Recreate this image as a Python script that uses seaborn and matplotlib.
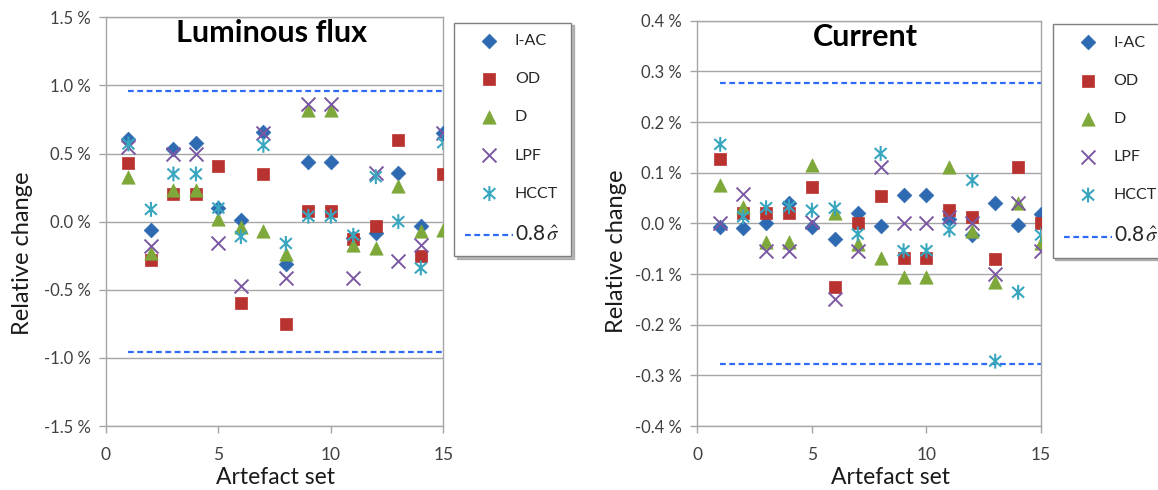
import matplotlib
matplotlib.use("Agg")
import matplotlib.pyplot as plt
import seaborn as sns
from matplotlib.path import Path
from matplotlib.ticker import FuncFormatter, MultipleLocator

# artefact sets on the x axis
sets = list(range(1, 16))
series_names = ["I-AC", "OD", "D", "LPF", "HCCT"]

# Luminous flux, relative change in %
flux_iac = [0.61, -0.06, 0.53, 0.58, 0.10, 0.01, 0.66, -0.31, 0.44, 0.44, -0.12, -0.08, 0.36, -0.03, 0.65]
flux_od = [0.43, -0.28, 0.20, 0.20, 0.41, -0.60, 0.35, -0.75, 0.08, 0.08, -0.13, -0.03, 0.60, -0.25, 0.35]
flux_d = [0.33, -0.23, 0.23, 0.23, 0.02, -0.04, -0.07, -0.24, 0.82, 0.82, -0.17, -0.19, 0.26, -0.07, -0.06]
flux_lpf = [0.55, -0.18, 0.50, 0.50, -0.16, -0.47, 0.65, -0.41, 0.86, 0.86, -0.41, 0.36, -0.29, -0.17, 0.65]
flux_hcct = [0.57, 0.09, 0.35, 0.35, 0.10, -0.11, 0.56, -0.16, 0.04, 0.04, -0.10, 0.33, 0.00, -0.34, 0.58]
flux_sigma = 0.956

# Current, relative change in %
cur_iac = [-0.007, -0.010, 0.000, 0.041, -0.007, -0.030, 0.020, -0.005, 0.056, 0.056, 0.008, -0.023, 0.040, -0.003, 0.018]
cur_od = [0.128, 0.020, 0.020, 0.020, 0.072, -0.126, 0.000, 0.054, -0.068, -0.068, 0.026, 0.013, -0.070, 0.111, 0.000]
cur_d = [0.076, 0.033, -0.037, -0.037, 0.116, 0.020, -0.040, -0.068, -0.105, -0.105, 0.111, -0.015, -0.116, 0.040, -0.039]
cur_lpf = [0.000, 0.058, -0.054, -0.054, 0.003, -0.149, -0.054, 0.111, 0.000, 0.000, 0.013, 0.000, -0.100, 0.040, -0.054]
cur_hcct = [0.156, 0.013, 0.031, 0.033, 0.026, 0.030, -0.021, 0.138, -0.054, -0.054, -0.013, 0.085, -0.272, -0.136, -0.023]
cur_sigma = 0.278

sns.set_style("white")
plt.rcParams["font.family"] = ["Lato", "DejaVu Sans"]
plt.rcParams["mathtext.fontset"] = "stix"

# excel-like asterisk marker for HCCT
star = Path([(0, -1), (0, 1), (-0.8, -0.72), (0.8, 0.72), (-0.8, 0.72), (0.8, -0.72)],
            [Path.MOVETO, Path.LINETO] * 3)

colors = ["#2E6AB1", "#B83330", "#7FA83A", "#7A58A3", "#38A6BF"]
markers = ["D", "s", "^", "x", star]
sizes = [56, 80, 92, 100, 115]
grid_col = "#A6A6A6"


def draw_panel(ax, values, sigma, title, title_xy, step, ymax, xlabel_x, ylabel_xy, legend_xy):
    for name, vals, col, mk, sz in zip(series_names, values, colors, markers, sizes):
        if mk == "x":
            # line-art marker takes its colour from the face
            sns.scatterplot(x=sets, y=vals, ax=ax, marker=mk, s=sz, color=col,
                            linewidth=1.4, label=name, zorder=3)
        elif isinstance(mk, Path):
            sns.scatterplot(x=sets, y=vals, ax=ax, marker=mk, s=sz, color=col,
                            facecolor="none", edgecolor=col, linewidth=1.5, label=name, zorder=3)
        else:
            sns.scatterplot(x=sets, y=vals, ax=ax, marker=mk, s=sz, color=col,
                            edgecolor=col, linewidth=0.5, label=name, zorder=3)
    ax.hlines([sigma, -sigma], sets[0], sets[-1], colors="#2F6BF5", linewidth=1.6,
              linestyles=(0, (2.6, 1.6)), label=r"0.8$\,\hat{\sigma}$", zorder=2)

    ax.set_xlim(0, 15)
    ax.set_ylim(-ymax, ymax)
    ax.xaxis.set_major_locator(MultipleLocator(5))
    ax.yaxis.set_major_locator(MultipleLocator(step))
    ax.yaxis.set_major_formatter(FuncFormatter(lambda v, p: "{:.1f} %".format(v + 0.0)))
    ax.grid(axis="y", color=grid_col, linewidth=1.0)
    ax.grid(axis="x", visible=False)
    for sp in ax.spines.values():
        sp.set_color(grid_col)
        sp.set_linewidth(1.0)
    ax.tick_params(axis="y", length=5, width=1, color=grid_col, pad=6, labelsize=12, labelcolor="#404040")
    ax.tick_params(axis="x", length=5, width=1, color=grid_col, pad=10, labelsize=12.5, labelcolor="#404040")
    ax.tick_params(left=True, bottom=True)

    ax.set_xlabel("Artefact set", fontsize=16.5, color="#1a1a1a")
    ax.set_ylabel("Relative change", fontsize=17, color="#1a1a1a")
    ax.xaxis.set_label_coords(xlabel_x, -0.1)
    ax.yaxis.set_label_coords(*ylabel_xy)
    ax.text(title_xy[0], title_xy[1], title, transform=ax.transAxes, ha="center", va="center",
            fontsize=22, fontweight="bold", color="black")

    leg = ax.legend(loc="upper left", bbox_to_anchor=legend_xy, bbox_transform=ax.figure.transFigure,
                    borderaxespad=0, frameon=True, fancybox=False, shadow={"color": "0.55", "alpha": 0.6},
                    fontsize=11.5, labelspacing=1.5, borderpad=0.72, handlelength=3.0, handletextpad=0.1,
                    scatterpoints=1)
    leg.get_texts()[-1].set_fontsize(15)
    leg.get_frame().set_edgecolor("#7F7F7F")
    leg.get_frame().set_linewidth(1.0)


fig = plt.figure(figsize=(11.58, 4.9), dpi=100)
ax1 = fig.add_axes([0.0915, 0.1306, 0.2913, 0.8341])
ax2 = fig.add_axes([0.6022, 0.1306, 0.2968, 0.8271])

draw_panel(ax1, [flux_iac, flux_od, flux_d, flux_lpf, flux_hcct], flux_sigma, "Luminous flux",
           (0.492, 0.962), 0.5, 1.5, 0.5025, (-0.215, 0.422), (0.392, 0.954))
draw_panel(ax2, [cur_iac, cur_od, cur_d, cur_lpf, cur_hcct], cur_sigma, "Current",
           (0.488, 0.9605), 0.1, 0.4, 0.561, (-0.205, 0.432), (0.909, 0.951))

fig.savefig("out.png", dpi=100)
